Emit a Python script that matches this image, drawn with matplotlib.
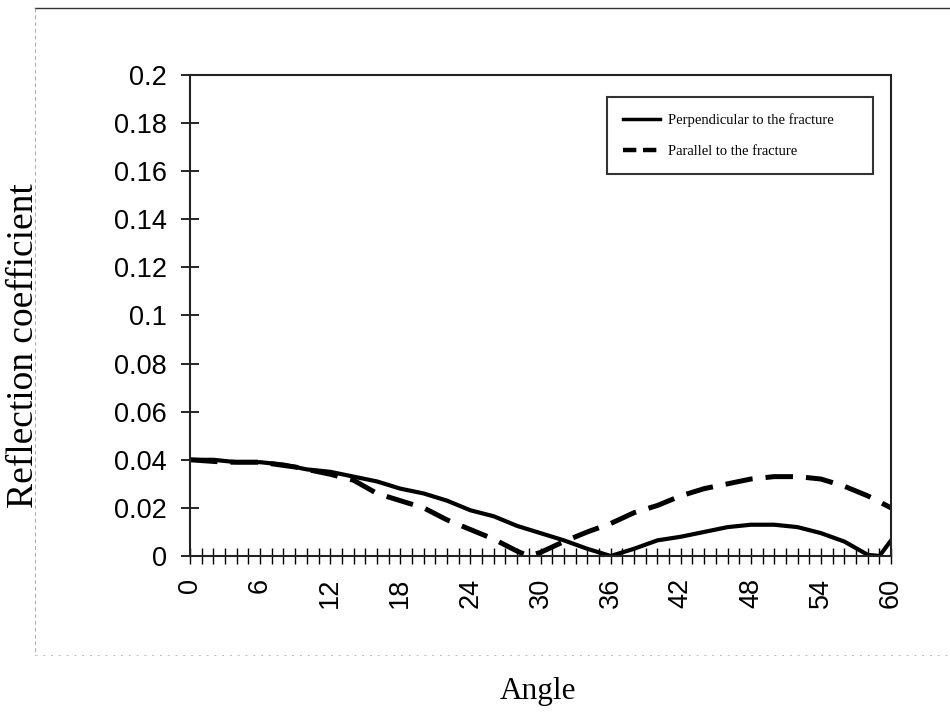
import matplotlib
matplotlib.use("Agg")
import matplotlib.pyplot as plt
from matplotlib.lines import Line2D
from matplotlib.ticker import MultipleLocator

# Reflection coefficient vs incidence angle (degrees)
angle_perp = [0, 2, 4, 6, 8, 10, 12, 14, 16, 18, 20, 22, 24, 26, 28, 30, 32,
              34, 36, 37, 38, 40, 42, 44, 46, 48, 50, 52, 54, 56, 58, 59, 60]
refl_perp = [0.040, 0.040, 0.039, 0.039, 0.038, 0.036, 0.035, 0.033, 0.031,
             0.028, 0.026, 0.023, 0.019, 0.0165, 0.0125, 0.0095, 0.0065,
             0.003, 0.000, 0.0015, 0.003, 0.0065, 0.008, 0.010, 0.012, 0.013,
             0.013, 0.012, 0.0095, 0.006, 0.0005, 0.000, 0.0065]

angle_par = [0, 3, 6, 9, 12, 14, 16, 18, 20, 22, 24, 26, 28, 29, 30, 32, 34,
             36, 38, 40, 42, 44, 46, 48, 50, 52, 54, 56, 58, 60]
refl_par = [0.040, 0.039, 0.039, 0.037, 0.034, 0.0315, 0.026, 0.023, 0.020,
            0.015, 0.011, 0.007, 0.002, 0.000, 0.0015, 0.006, 0.010, 0.0135,
            0.018, 0.021, 0.025, 0.028, 0.030, 0.032, 0.033, 0.033, 0.032,
            0.029, 0.025, 0.020]

labels = ["Perpendicular to the fracture", "Parallel to the fracture"]
ytick_vals = [0, 0.02, 0.04, 0.06, 0.08, 0.1, 0.12, 0.14, 0.16, 0.18, 0.2]
ytick_text = ["0", "0.02", "0.04", "0.06", "0.08", "0.1", "0.12",
              "0.14", "0.16", "0.18", "0.2"]

fig = plt.figure(figsize=(9.5, 7.14), dpi=100)
ax = fig.add_axes([0.2, 0.2213, 0.738, 0.6737])

ax.plot(angle_perp, refl_perp, color="black", lw=3.0, solid_joinstyle="round")
ax.plot(angle_par, refl_par, color="black", lw=3.6, linestyle=(0, (5.5, 2.6)))

ax.set_xlim(0, 60)
ax.set_ylim(0, 0.2)
ax.xaxis.set_major_locator(MultipleLocator(6))
ax.xaxis.set_minor_locator(MultipleLocator(1))
ax.set_yticks(ytick_vals)
ax.set_yticklabels(ytick_text)

for lab in ax.get_xticklabels() + ax.get_yticklabels():
    lab.set_fontfamily("Liberation Sans")
    lab.set_fontsize(19.5)
for lab in ax.get_xticklabels():
    lab.set_rotation(90)

ax.tick_params(axis="y", which="major", direction="inout", length=13,
               width=1.2, pad=10)
ax.tick_params(axis="x", which="both", direction="inout", length=11,
               width=1.0, pad=10)
for s in ax.spines.values():
    s.set_linewidth(1.5)
    s.set_color("#222222")

fig.text(24 / 950, 1 - 346 / 714, "Reflection coefficient",
         family="Liberation Serif", fontsize=27, rotation=90,
         ha="center", va="center")
fig.text(538 / 950, 1 - 692 / 714, "Angle", family="Liberation Serif",
         fontsize=22.5, ha="center", va="center")

handles = [Line2D([], [], color="black", lw=2.5),
           Line2D([], [], color="black", lw=3.2, linestyle=(0, (3, 1.5)))]
leg = ax.legend(handles, labels, loc="upper left", mode="expand",
                bbox_to_anchor=(0.595, 0.792, 0.379, 0.162),
                prop={"family": "Liberation Serif", "size": 10.5},
                frameon=True, fancybox=False, borderpad=1.1,
                labelspacing=1.2, handlelength=2.5, handletextpad=0.6,
                borderaxespad=0)
leg.get_frame().set_edgecolor("black")
leg.get_frame().set_linewidth(1.5)

# faint outer frame around the chart
fig.add_artist(Line2D([0.037, 1.0], [0.989, 0.989], color="#333333",
                      lw=1.0, transform=fig.transFigure))
fig.add_artist(Line2D([0.037, 0.037], [0.989, 0.083], color="#aaaaaa",
                      lw=0.7, linestyle=(0, (4, 3)), transform=fig.transFigure))
fig.add_artist(Line2D([0.037, 1.0], [0.083, 0.083], color="#bbbbbb",
                      lw=0.7, linestyle=(0, (2, 6)), transform=fig.transFigure))

fig.savefig("out.png", dpi=100)
